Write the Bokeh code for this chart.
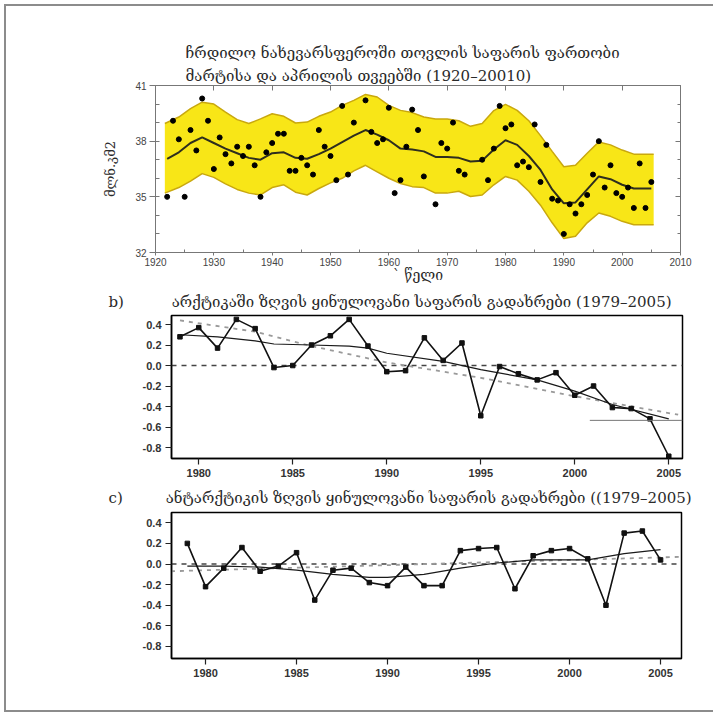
from bokeh.embed import file_html
from bokeh.layouts import column, row
from bokeh.models import FixedTicker, LinearAxis, NumeralTickFormatter, Range1d, Title
from bokeh.plotting import figure
from bokeh.resources import INLINE

# ---------------------------------------------------------------- data
# Northern hemisphere March-April snow cover (million km2)
snow_years = [1922, 1923, 1924, 1925, 1926, 1927, 1928, 1929, 1930, 1931, 1932, 1933,
              1934, 1935, 1936, 1937, 1938, 1939, 1940, 1941, 1942, 1943, 1944, 1945,
              1946, 1947, 1948, 1949, 1950, 1951, 1952, 1953, 1954, 1956, 1957, 1958,
              1959, 1960, 1961, 1962, 1963, 1964, 1965, 1966, 1968, 1969, 1970, 1971,
              1972, 1973, 1976, 1977, 1978, 1979, 1980, 1981, 1982, 1983, 1984, 1985,
              1986, 1987, 1988, 1989, 1990, 1991, 1992, 1993, 1994, 1995, 1996, 1997,
              1998, 1999, 2000, 2001, 2002, 2003, 2004, 2005]
snow_values = [35.0, 39.1, 38.1, 35.0, 38.6, 37.5, 40.3, 39.1, 36.5, 38.2, 37.3, 36.8,
               37.7, 37.2, 37.7, 36.7, 35.0, 37.4, 37.9, 38.4, 38.4, 36.4, 36.4, 37.1,
               36.7, 36.2, 38.6, 37.7, 37.2, 35.9, 39.9, 36.2, 39.0, 40.2, 38.5, 37.9,
               38.1, 39.8, 35.2, 35.9, 37.7, 39.7, 38.6, 36.1, 34.6, 37.9, 37.6, 39.0,
               36.4, 36.2, 37.0, 35.9, 37.6, 39.9, 38.7, 38.9, 36.7, 36.9, 36.6, 38.9,
               35.8, 37.8, 34.9, 34.8, 33.0, 34.6, 34.1, 34.6, 35.1, 36.2, 38.0, 35.5,
               36.7, 35.2, 35.0, 35.5, 34.4, 36.8, 34.4, 35.8]

smooth_years = [1922, 1924, 1926, 1928, 1930, 1932, 1934, 1936, 1938, 1940, 1942, 1944,
                1946, 1948, 1950, 1952, 1954, 1956, 1958, 1960, 1962, 1964, 1966, 1968,
                1970, 1972, 1974, 1976, 1978, 1980, 1982, 1984, 1986, 1988, 1990, 1992,
                1994, 1996, 1998, 2000, 2002, 2005]
smooth_values = [37.05, 37.4, 37.9, 38.2, 37.9, 37.6, 37.35, 37.1, 37.0, 37.35, 37.4, 37.1,
                 37.05, 37.3, 37.6, 37.95, 38.3, 38.6, 38.35, 38.05, 37.6, 37.55, 37.45, 37.15,
                 37.15, 37.1, 36.9, 36.95, 37.55, 38.05, 37.8, 37.2, 36.45, 35.4, 34.65, 34.7,
                 35.4, 36.1, 35.95, 35.65, 35.45, 35.45]

band_years = [1921.6, 1924, 1926, 1928, 1930, 1932, 1934, 1936, 1938, 1940, 1942, 1944,
              1946, 1948, 1950, 1952, 1954, 1956, 1958, 1960, 1962, 1964, 1966, 1968,
              1970, 1972, 1974, 1976, 1978, 1980, 1982, 1984, 1986, 1988, 1990, 1992,
              1994, 1996, 1998, 2000, 2002, 2005.4]
band_upper = [38.95, 39.3, 39.75, 40.1, 40.0, 39.57, 39.16, 38.95, 39.2, 39.48, 39.34, 38.98,
              39.03, 39.34, 39.57, 39.93, 40.2, 40.52, 40.38, 39.93, 39.66, 39.54, 39.3, 39.2,
              39.2, 39.1, 38.8, 38.95, 39.65, 39.98, 39.66, 39.1, 38.3, 37.45, 36.62, 36.7,
              37.35, 37.96, 37.8, 37.52, 37.3, 37.3]
band_lower = [35.2, 35.5, 35.85, 36.25, 36.05, 35.7, 35.4, 35.2, 35.1, 35.5, 35.65, 35.25,
              35.1, 35.45, 35.75, 36.0, 36.4, 36.7, 36.35, 36.0, 35.72, 35.55, 35.5, 35.2,
              35.2, 35.3, 35.02, 35.1, 35.65, 36.1, 35.9, 35.3, 34.55, 33.6, 32.75, 32.88,
              33.6, 34.13, 33.95, 33.68, 33.5, 33.5]

# Sea ice extent anomalies 1979-2005
ice_years = list(range(1979, 2006))
arctic_values = [0.28, 0.37, 0.17, 0.45, 0.36, -0.02, 0.0, 0.20, 0.29, 0.45, 0.19, -0.06,
                 -0.05, 0.27, 0.05, 0.22, -0.49, -0.01, -0.08, -0.14, -0.07, -0.29, -0.20,
                 -0.41, -0.42, -0.52, -0.885]
arctic_smooth_years = [1979, 1981, 1983, 1984, 1986, 1988, 1989, 1990, 1993, 1995, 1998, 2000, 2002, 2005]
arctic_smooth_values = [0.30, 0.28, 0.24, 0.21, 0.20, 0.19, 0.17, 0.12, 0.04, -0.04, -0.14, -0.25, -0.38, -0.52]
arctic_trend_years = [1979, 1983, 1986, 1990, 1995, 2000, 2005.5]
arctic_trend_values = [0.44, 0.33, 0.19, 0.03, -0.12, -0.30, -0.48]

antarctic_values = [0.20, -0.22, -0.04, 0.16, -0.07, -0.02, 0.11, -0.35, -0.06, -0.04,
                    -0.18, -0.21, -0.03, -0.21, -0.21, 0.13, 0.15, 0.16, -0.24, 0.08,
                    0.13, 0.15, 0.05, -0.40, 0.30, 0.32, 0.04]
antarctic_smooth_years = [1979, 1981, 1983, 1985, 1987, 1989, 1990, 1992, 1994, 1996, 1998, 2001, 2003, 2005]
antarctic_smooth_values = [-0.02, -0.02, -0.03, -0.06, -0.10, -0.13, -0.13, -0.10, -0.04, 0.01, 0.04, 0.04, 0.10, 0.14]
antarctic_trend_years = [1978.1, 2006.2]
antarctic_trend_values = [-0.07, 0.07]

snow_ticks = [32, 35, 38, 41]
decade_ticks = list(range(1920, 2011, 10))
ice_year_ticks = [1980, 1985, 1990, 1995, 2000, 2005]
ice_value_ticks = [-0.8, -0.6, -0.4, -0.2, 0.0, 0.2, 0.4]

title_snow_1 = "ჩრდილო ნახევარსფეროში თოვლის საფარის ფართობი"
title_snow_2 = "მარტისა და აპრილის თვეებში (1920–20010)"
title_arctic = "არქტიკაში ზღვის ყინულოვანი საფარის გადახრები (1979–2005)"
title_antarctic = "ანტარქტიკის ზღვის ყინულოვანი საფარის გადახრები ((1979–2005)"
letter_arctic = "b)"
letter_antarctic = "c)"
snow_unit = "მლნ.კმ2"
year_word = "` წელი"

# ---------------------------------------------------------------- layout helpers
GEO = "DejaVu Serif"
NUM = "Liberation Sans"
INK = "#2a2a2a"
NBSP = "\u00a0"
W = 707
OX, OY = 6, 6   # page offset of the column content
LETTER_X = 108  # page x where the panel letters start


def make_fig(height, xr, yr, ml, mr, mt, mb):
    p = figure(width=W, height=height, x_range=Range1d(*xr), y_range=Range1d(*yr),
               output_backend="svg", toolbar_location=None, tools="",
               min_border_left=ml, min_border_right=mr,
               min_border_top=mt, min_border_bottom=mb)
    p.grid.visible = False
    p.background_fill_color = "white"
    p.border_fill_color = "white"
    return p


def add_title(p, text, size, offset, standoff):
    p.add_layout(Title(text=text, align="left", offset=offset, standoff=standoff,
                       text_font=GEO, text_font_size=f"{size}px", text_font_style="normal",
                       text_color=INK), "above")


# ---------------------------------------------------------------- snow cover panel
H1 = 279
F1L, F1B = 155, 253
p1 = make_fig(H1, (1920, 2010), (32, 41), F1L - OX, W - (680 - OX), 85 - OY, H1 - (F1B - OY))
p1.outline_line_color = None

p1.varea(x=band_years, y1=band_lower, y2=band_upper, fill_color="#F8E617")
p1.line(band_years, band_upper, line_color="#C9A80E", line_width=1.5)
p1.line(band_years, band_lower, line_color="#C9A80E", line_width=1.5)
p1.line(smooth_years, smooth_values, line_color="#2e2e1e", line_width=2)
p1.scatter(snow_years, snow_values, size=5, color="black")

for ax in (p1.xaxis[0], p1.yaxis[0]):
    ax.axis_line_color = "#777"
    ax.major_tick_line_color = "#777"
    ax.minor_tick_line_color = "#777"
    ax.major_label_text_font = NUM
    ax.major_label_text_font_size = "10px"
    ax.major_label_text_color = "#444"
    ax.axis_label_text_font = GEO
    ax.axis_label_text_font_style = "normal"
    ax.axis_label_text_color = INK
p1.xaxis.ticker = FixedTicker(ticks=decade_ticks, minor_ticks=list(range(1925, 2010, 10)))
p1.xaxis.major_tick_out = 3
p1.xaxis.major_tick_in = 0
p1.xaxis.minor_tick_out = 0
p1.xaxis.minor_tick_in = 3
p1.xaxis.major_label_standoff = 2
p1.xaxis.axis_label = year_word
p1.xaxis.axis_label_text_font_size = "14px"
p1.xaxis.axis_label_standoff = -2
p1.yaxis.ticker = FixedTicker(ticks=snow_ticks, minor_ticks=list(range(32, 42)))
p1.yaxis.major_tick_out = 6
p1.yaxis.major_tick_in = 0
p1.yaxis.minor_tick_out = 0
p1.yaxis.minor_tick_in = 4
p1.yaxis.major_label_standoff = 3
p1.yaxis.axis_label = snow_unit
p1.yaxis.axis_label_text_font_size = "13px"
p1.yaxis.axis_label_standoff = 14

for side, tick in (("right", FixedTicker(ticks=snow_ticks, minor_ticks=list(range(32, 42)))),
                   ("above", FixedTicker(ticks=decade_ticks, minor_ticks=[]))):
    ax = LinearAxis(ticker=tick, axis_line_color="#777", major_tick_line_color="#777",
                    minor_tick_line_color="#777", major_tick_in=5, major_tick_out=0,
                    minor_tick_in=3, minor_tick_out=0, major_label_text_alpha=0,
                    major_label_text_font_size="1px", major_label_standoff=0)
    p1.add_layout(ax, side)

add_title(p1, title_snow_2, 15, 30, 2)
add_title(p1, title_snow_1, 15, 30, 4)

# ---------------------------------------------------------------- sea ice panels


def ice_panel(height, xr, yr, frame, top_y, values, smooth_x, smooth_y, trend_x, trend_y):
    fl, fr, ft, fb = frame
    p = make_fig(height, xr, yr, fl - OX, W - (fr - OX), ft - top_y, height - (fb - top_y))
    p.outline_line_color = "black"
    p.outline_line_width = 1.5
    p.line([xr[0], xr[1]], [0, 0], line_color="#444", line_width=1.5, line_dash="5 5")
    p.line(trend_x, trend_y, line_color="#9a9a9a", line_width=1.8, line_dash="4 5")
    p.line(smooth_x, smooth_y, line_color="#1a1a1a", line_width=1.2)
    p.line(ice_years, values, line_color="#111", line_width=1.6)
    p.scatter(ice_years, values, size=4.5, marker="square", color="#111")

    p.xaxis.ticker = FixedTicker(ticks=ice_year_ticks, minor_ticks=[])
    p.yaxis.ticker = FixedTicker(ticks=ice_value_ticks, minor_ticks=[])
    p.yaxis.formatter = NumeralTickFormatter(format="0.0")
    for ax in (p.xaxis[0], p.yaxis[0]):
        ax.axis_line_color = "black"
        ax.axis_line_width = 1.5
        ax.major_tick_line_color = "#222"
        ax.major_tick_line_width = 1.2
        ax.major_tick_in = 0
        ax.major_tick_out = 6
        ax.major_label_text_font = NUM
        ax.major_label_text_font_style = "bold"
        ax.major_label_text_font_size = "11px"
        ax.major_label_text_color = "#333"
        ax.major_label_standoff = 4
    return p


T2, H2 = OY + H1, 195
F2 = (171, 682, 315, 458)
p2 = ice_panel(H2, (1978.55, 2005.73), (-0.907, 0.488), F2, T2, arctic_values,
               arctic_smooth_years, arctic_smooth_values, arctic_trend_years, arctic_trend_values)
p2.line([2000.8, 2005.73], [-0.535, -0.535], line_color="#777", line_width=1)
add_title(p2, letter_arctic + NBSP * 10 + title_arctic, 15, LETTER_X - F2[0], 10)

T3, H3 = T2 + H2, 230
F3 = (171, 681, 512, 658)
p3 = ice_panel(H3, (1978.13, 2006.15), (-0.917, 0.50), F3, T3, antarctic_values,
               antarctic_smooth_years, antarctic_smooth_values, antarctic_trend_years,
               antarctic_trend_values)
add_title(p3, letter_antarctic + NBSP * 9 + title_antarctic, 15, LETTER_X - F3[0], 12)

page = column(row(p1), row(p2), row(p3),
              styles={"border-left": "2px solid #8c8c8c",
                      "border-top": "2px solid #8c8c8c",
                      "border-bottom": "2px solid #8c8c8c",
                      "margin-left": "4px", "margin-top": "4px"})

open("out.html", "w").write(file_html(page, INLINE))
